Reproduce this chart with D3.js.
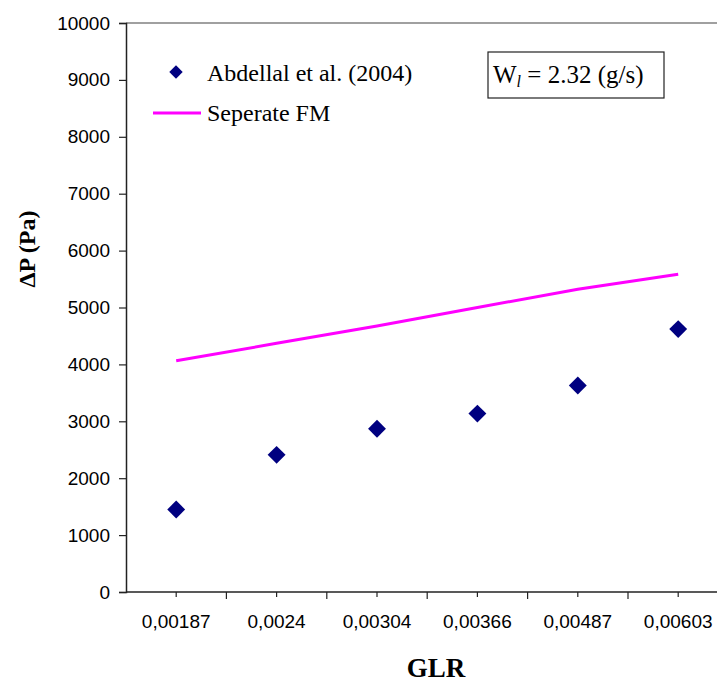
<!DOCTYPE html>
<html>
<head>
<meta charset="utf-8">
<script src="https://cdn.jsdelivr.net/npm/d3@7"></script>
<style>
  html, body { margin: 0; padding: 0; background: #fff; }
  svg { display: block; }
</style>
</head>
<body>
<svg id="chart" width="717" height="683"></svg>
<script>
// ---- data ----
const categories = ["0,00187", "0,0024", "0,00304", "0,00366", "0,00487", "0,00603"];
const measured = [1450, 2410, 2870, 3135, 3630, 4620];     // Abdellal et al. (2004)
const separateFM = [4065, 4370, 4675, 5000, 5320, 5585];   // Seperate FM
const yTicks = [0, 1000, 2000, 3000, 4000, 5000, 6000, 7000, 8000, 9000, 10000];
const seriesNames = ["Abdellal et al. (2004)", "Seperate FM"];

// ---- layout ----
const svg = d3.select("#chart");
const plotLeft = 126, plotBottom = 592, plotTop = 23;
const band = 100.4;
const plotRight = plotLeft + band * categories.length;

const x = d3.scaleBand().domain(categories).range([plotLeft, plotRight]).paddingInner(0).paddingOuter(0);
const y = d3.scaleLinear().domain([0, 10000]).range([plotBottom, plotTop]);
const cx = d => x(d) + x.bandwidth() / 2;

// top border line (gray)
svg.append("line")
  .attr("x1", plotLeft).attr("x2", 760)
  .attr("y1", y(10000)).attr("y2", y(10000))
  .attr("stroke", "#a0a0a0").attr("stroke-width", 2);

// y axis
const yAxis = d3.axisLeft(y).tickValues(yTicks).tickSize(7).tickPadding(9).tickFormat(d3.format("d"));
const gy = svg.append("g").attr("transform", `translate(${plotLeft},0)`).call(yAxis);
gy.select(".domain").attr("stroke", "#222").attr("stroke-width", 1.5);
gy.selectAll(".tick line").attr("stroke", "#222").attr("stroke-width", 1.2);
gy.selectAll(".tick text")
  .attr("font-family", "Liberation Sans, Arial, sans-serif")
  .attr("font-size", 19).attr("fill", "#000");

// x axis: boundary ticks + center ticks
const gx = svg.append("g").attr("transform", `translate(0,${plotBottom})`);
gx.append("line").attr("x1", plotLeft).attr("x2", 760).attr("y1", 0).attr("y2", 0)
  .attr("stroke", "#222").attr("stroke-width", 1.5);
const bounds = categories.map(c => x(c)).concat([plotRight]).slice(1);
gx.selectAll("line.bt").data(bounds).enter().append("line")
  .attr("class", "bt")
  .attr("x1", d => d).attr("x2", d => d).attr("y1", 0).attr("y2", 7)
  .attr("stroke", "#222").attr("stroke-width", 1.2);
gx.selectAll("line.ct").data(categories).enter().append("line")
  .attr("class", "ct")
  .attr("x1", d => cx(d)).attr("x2", d => cx(d)).attr("y1", 0).attr("y2", 5)
  .attr("stroke", "#222").attr("stroke-width", 1.2);
gx.selectAll("text").data(categories).enter().append("text")
  .attr("x", d => cx(d)).attr("y", 36)
  .attr("text-anchor", "middle")
  .attr("font-family", "Liberation Sans, Arial, sans-serif")
  .attr("font-size", 19).attr("fill", "#000")
  .text(d => d);

// axis titles
svg.append("text")
  .attr("x", 436).attr("y", 677)
  .attr("text-anchor", "middle")
  .attr("font-family", "Liberation Serif, Times New Roman, serif")
  .attr("font-weight", "bold").attr("font-size", 27)
  .text("GLR");
svg.append("text")
  .attr("transform", "translate(35,249) rotate(-90)")
  .attr("text-anchor", "middle")
  .attr("font-family", "Liberation Serif, Times New Roman, serif")
  .attr("font-weight", "bold").attr("font-size", 24)
  .text("ΔP (Pa)");

// line series
const line = d3.line().x((d, i) => cx(categories[i])).y(d => y(d));
svg.append("path")
  .datum(separateFM)
  .attr("d", line)
  .attr("fill", "none")
  .attr("stroke", "#ff00ff")
  .attr("stroke-width", 3);

// diamond markers
const diamond = d3.symbol().type(d3.symbolSquare).size(160);
svg.selectAll("path.pt").data(measured).enter().append("path")
  .attr("class", "pt")
  .attr("d", diamond)
  .attr("transform", (d, i) => `translate(${cx(categories[i])},${y(d)}) rotate(45)`)
  .attr("fill", "#000080");

// legend
const lg = svg.append("g");
lg.append("path")
  .attr("d", d3.symbol().type(d3.symbolSquare).size(90))
  .attr("transform", "translate(176,72) rotate(45)")
  .attr("fill", "#000080");
lg.append("text").attr("x", 207).attr("y", 81)
  .attr("font-family", "Liberation Serif, Times New Roman, serif")
  .attr("font-size", 24).text(seriesNames[0]);
lg.append("line").attr("x1", 153).attr("x2", 201).attr("y1", 113).attr("y2", 113)
  .attr("stroke", "#ff00ff").attr("stroke-width", 3);
lg.append("text").attr("x", 207).attr("y", 121)
  .attr("font-family", "Liberation Serif, Times New Roman, serif")
  .attr("font-size", 24).text(seriesNames[1]);

// annotation box
svg.append("rect")
  .attr("x", 488).attr("y", 52).attr("width", 176).attr("height", 46)
  .attr("fill", "#fff").attr("stroke", "#222").attr("stroke-width", 1.2);
const ann = svg.append("text").attr("x", 493).attr("y", 83)
  .attr("font-family", "Liberation Serif, Times New Roman, serif")
  .attr("font-size", 25);
ann.append("tspan").text("W");
ann.append("tspan").attr("font-style", "italic").attr("font-size", 16).attr("dy", 4).text("l");
ann.append("tspan").attr("dy", -4).text(" = 2.32 (g/s)");
</script>
</body>
</html>
